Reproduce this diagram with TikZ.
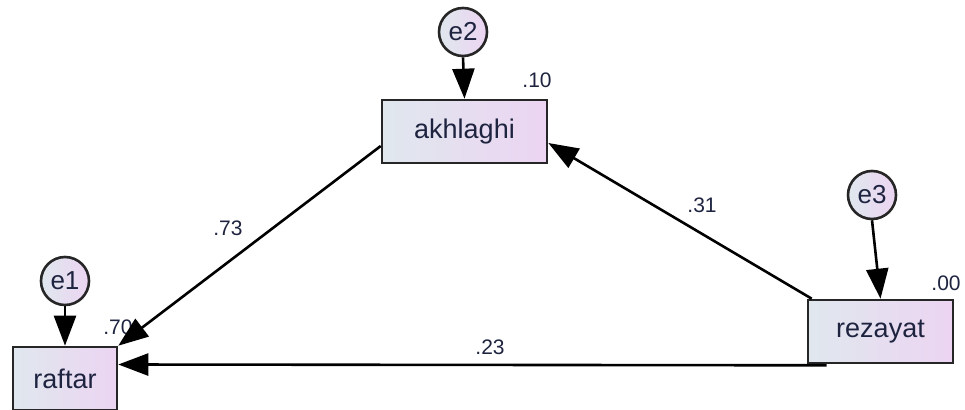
\documentclass[tikz,border=0pt]{standalone}
\usepackage{fontspec}
\setmainfont{Liberation Sans}
\usetikzlibrary{arrows.meta}
\definecolor{fillL}{HTML}{E0E8EE}
\definecolor{fillR}{HTML}{ECD4F2}
\definecolor{txt}{HTML}{1E2440}
\begin{document}
\begin{tikzpicture}[x=1pt,y=-1pt,
  obs/.style={draw=black!85,line width=2.6pt,left color=fillL,right color=fillR,shading angle=90,
    minimum height=63pt,inner sep=0pt,font=\fontsize{27}{30}\selectfont,text=txt},
  err/.style={circle,draw=black!85,line width=2.6pt,left color=fillL,right color=fillR,
    minimum size=48pt,inner sep=0pt,font=\fontsize{26}{30}\selectfont,text=txt},
  path/.style={line width=2.6pt,-{Triangle[length=30pt,width=22pt]}},
  coef/.style={font=\fontsize{21}{24}\selectfont,text=txt,inner sep=0pt}]
\useasboundingbox (0,0) rectangle (965,409);
\node[obs,minimum width=104pt] (raftar) at (65,378.5) {raftar};
\node[obs,minimum width=165pt] (akhlaghi) at (464.5,131.5) {akhlaghi};
\node[obs,minimum width=145pt] (rezayat) at (880.5,331.5) {rezayat};
\node[err] (e1) at (65,281) {e1};
\node[err] (e2) at (463,32) {e2};
\node[err] (e3) at (872,195) {e3};
\node[coef] (r70) at (118,327) {.70};
\node[coef] (r10) at (537,80) {.10};
\node[coef] (r00) at (946,283) {.00};
\node[coef] (c73) at (228,228) {.73};
\node[coef] (c31) at (702,205) {.31};
\node[coef] (c23) at (490,347) {.23};
\draw[path] (e1.south) -- (raftar.north);
\draw[path] (e2.south) -- (akhlaghi.north);
\draw[path] (e3.south) -- (rezayat.north);
\draw[path] ([yshift=-14.5pt]akhlaghi.west) -- (raftar.north east);
\draw[path] ([xshift=5pt]rezayat.north west) -- ([yshift=-11.5pt]akhlaghi.east);
\draw[path] ([xshift=20pt,yshift=-1pt]rezayat.south west) -- ([yshift=14pt]raftar.east);
\end{tikzpicture}
\end{document}
